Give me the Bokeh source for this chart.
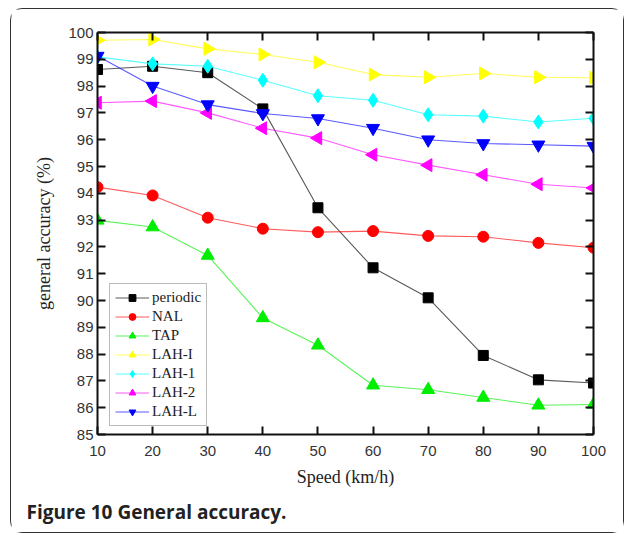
import math
from bokeh.plotting import figure
from bokeh.models import LinearAxis, FixedTicker, Range1d, Legend, LegendItem, Title
from bokeh.embed import file_html
from bokeh.resources import INLINE

speed = [10, 20, 30, 40, 50, 60, 70, 80, 90, 100]
periodic = [98.62, 98.74, 98.50, 97.15, 93.46, 91.22, 90.10, 87.95, 87.04, 86.92]
nal = [94.23, 93.92, 93.09, 92.68, 92.55, 92.59, 92.41, 92.38, 92.15, 91.97]
tap = [92.99, 92.74, 91.68, 89.35, 88.33, 86.84, 86.67, 86.38, 86.09, 86.12]
lah_i = [99.71, 99.74, 99.39, 99.18, 98.89, 98.43, 98.33, 98.47, 98.33, 98.31]
lah_1 = [99.09, 98.83, 98.74, 98.22, 97.64, 97.47, 96.93, 96.88, 96.66, 96.80]
lah_2 = [97.38, 97.44, 97.00, 96.43, 96.06, 95.44, 95.05, 94.69, 94.34, 94.20]
lah_l = [99.12, 98.00, 97.31, 96.98, 96.79, 96.43, 96.00, 95.86, 95.81, 95.76]

x_ticks = [10, 20, 30, 40, 50, 60, 70, 80, 90, 100]
y_ticks = list(range(85, 101))

series = [
    ("periodic", periodic, "#000000", "square", 0, 10),
    ("NAL", nal, "#FF0000", "circle", 0, 11),
    ("TAP", tap, "#00EE00", "triangle", 0, 13),
    ("LAH-I", lah_i, "#FFFF00", "triangle", -math.pi / 2, 13),
    ("LAH-1", lah_1, "#00FFFF", "diamond", 0, 14),
    ("LAH-2", lah_2, "#FF00FF", "triangle", math.pi / 2, 13),
    ("LAH-L", lah_l, "#0000FF", "inverted_triangle", 0, 13),
]

p = figure(width=614, height=525, output_backend="svg", toolbar_location=None,
           x_range=Range1d(10, 100), y_range=Range1d(85, 100),
           min_border_left=86, min_border_right=32, min_border_top=23, min_border_bottom=100)
p.grid.visible = False
p.outline_line_color = None
p.background_fill_color = "white"
p.border_fill_color = "white"
p.styles = {"border": "1.5px solid #333333", "border-radius": "12px",
            "margin-left": "10px", "margin-top": "8px"}

tick_font = "Liberation Sans"
serif = "Liberation Serif"

def style_axis(ax, labels=True):
    ax.axis_line_width = 2
    ax.axis_line_color = "#111111"
    ax.major_tick_in = 8
    ax.major_tick_out = 0
    ax.major_tick_line_width = 2
    ax.major_tick_line_color = "#111111"
    ax.minor_tick_line_color = None
    ax.major_label_text_font = tick_font
    ax.major_label_text_font_size = "15px"
    ax.major_label_text_color = "#333333" if labels else None
    ax.major_label_standoff = 4

xa = p.xaxis[0]
ya = p.yaxis[0]
xa.ticker = FixedTicker(ticks=x_ticks)
ya.ticker = FixedTicker(ticks=y_ticks)
style_axis(xa)
style_axis(ya)
xa.major_label_standoff = 11
xa.axis_label = "Speed (km/h)"
ya.axis_label = "general accuracy (%)"
for ax in (xa, ya):
    ax.axis_label_text_font = serif
    ax.axis_label_text_font_style = "normal"
    ax.axis_label_text_font_size = "18px"
    ax.axis_label_text_color = "#222222"
xa.axis_label_standoff = 8
ya.axis_label_standoff = 11

top = LinearAxis(ticker=FixedTicker(ticks=x_ticks))
style_axis(top, labels=False)
right = LinearAxis(ticker=FixedTicker(ticks=y_ticks))
style_axis(right, labels=False)
top.major_label_text_font_size = "0px"
right.major_label_text_font_size = "0px"
p.add_layout(top, "above")
p.add_layout(right, "right")

items = []
for name, vals, color, marker, ang, sz in series:
    r1 = p.line(speed, vals, line_color=color, line_width=1.1, line_alpha=0.65)
    r2 = p.scatter(speed, vals, marker=marker, angle=ang, size=sz,
                   fill_color=color, line_color=color)
    items.append(LegendItem(label=name, renderers=[r1, r2]))

legend = Legend(items=items, location=(12, 8))
legend.label_text_font = serif
legend.label_text_font_size = "15px"
legend.label_text_color = "#222222"
legend.border_line_color = "#777777"
legend.border_line_width = 1
legend.glyph_width = 34
legend.glyph_height = 17
legend.label_height = 17
legend.spacing = 2
legend.padding = 5
legend.margin = 0
legend.label_standoff = 3
p.add_layout(legend)

cap = Title(text="Figure 10 General accuracy.", align="left", offset=-71,
            text_font="Open Sans", text_font_style="bold", text_font_size="19px",
            text_color="#222222", standoff=14)
p.add_layout(cap, "below")

open("out.html", "w").write(file_html(p, INLINE))
